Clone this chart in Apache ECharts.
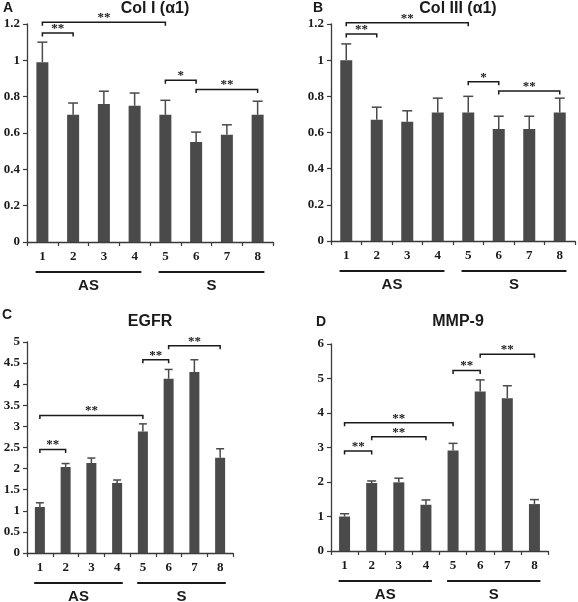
<!DOCTYPE html>
<html>
<head>
<meta charset="utf-8">
<script src="https://cdn.jsdelivr.net/npm/echarts@6/dist/echarts.min.js"></script>
<style>
html,body{margin:0;padding:0;background:#fff;}
#chart{width:578px;height:602px;}
</style>
</head>
<body>
<div id="chart"></div>
<script>
// ---- data ----
const categories = ['1', '2', '3', '4', '5', '6', '7', '8'];
const groups = [[0, 3, 'AS'], [4, 7, 'S']];

const colIMeans = [0.99, 0.70, 0.76, 0.75, 0.70, 0.55, 0.59, 0.70];
const colIErrors = [0.11, 0.065, 0.07, 0.07, 0.08, 0.055, 0.055, 0.075];
const colIBrackets = [[0, 1, 1.15, '**'], [0, 4, 1.21, '**'], [4, 5, 0.89, '*'], [5, 7, 0.84, '**']];

const colIIIMeans = [1.00, 0.67, 0.66, 0.71, 0.71, 0.62, 0.62, 0.71];
const colIIIErrors = [0.09, 0.07, 0.06, 0.08, 0.09, 0.07, 0.07, 0.08];
const colIIIBrackets = [[0, 1, 1.145, '**'], [0, 4, 1.207, '**'], [4, 5, 0.88, '*'], [5, 7, 0.83, '**']];

const egfrMeans = [1.09, 2.04, 2.13, 1.66, 2.88, 4.13, 4.29, 2.26];
const egfrErrors = [0.10, 0.08, 0.12, 0.07, 0.18, 0.22, 0.29, 0.21];
const egfrBrackets = [[0, 1, 2.45, '**'], [0, 4, 3.26, '**'], [4, 5, 4.58, '**'], [5, 7, 4.91, '**']];

const mmp9Means = [1.00, 1.97, 1.99, 1.34, 2.91, 4.62, 4.43, 1.36];
const mmp9Errors = [0.08, 0.06, 0.12, 0.14, 0.21, 0.34, 0.36, 0.13];
const mmp9Brackets = [[0, 1, 2.90, '**'], [1, 3, 3.31, '**'], [0, 4, 3.72, '**'], [4, 5, 5.23, '**'], [5, 7, 5.70, '**']];

const panelTitles = ['Col I (\u03b11)', 'Col III (\u03b11)', 'EGFR', 'MMP-9'];
const panelLetters = ['A', 'B', 'C', 'D'];
const yMax = [1.2, 1.2, 5, 6];
const yInterval = [0.2, 0.2, 0.5, 1];

// ---- layout / style ----
const panels = [
  { means: colIMeans, errors: colIErrors, brackets: colIBrackets, grid: { left: 27, top: 24, width: 246, height: 218 }, barWidth: 12, cap: 10,
    title: [155, 9], letter: [3, 8] },
  { means: colIIIMeans, errors: colIIIErrors, brackets: colIIIBrackets, grid: { left: 331, top: 24, width: 244, height: 217 }, barWidth: 12, cap: 10,
    title: [458, 9], letter: [313, 8] },
  { means: egfrMeans, errors: egfrErrors, brackets: egfrBrackets, grid: { left: 27, top: 342, width: 206, height: 211 }, barWidth: 10, cap: 8,
    title: [150, 322], letter: [2, 315] },
  { means: mmp9Means, errors: mmp9Errors, brackets: mmp9Brackets, grid: { left: 331, top: 344, width: 217, height: 207 }, barWidth: 11, cap: 9,
    title: [458, 322], letter: [316, 322] }
];

const BAR = '#4a4a4a';
const INK = '#1a1a1a';
const AXIS = '#3a3a3a';
const SERIF = '"Liberation Serif", "Times New Roman", serif';
const SANS = '"Liberation Sans", Arial, sans-serif';

const grids = [], xAxes = [], yAxes = [], series = [], graphics = [];

panels.forEach((p, i) => {
  grids.push(Object.assign({ containLabel: false }, p.grid));
  xAxes.push({
    type: 'category', gridIndex: i, data: categories,
    axisLine: { lineStyle: { color: AXIS, width: 1.3 } },
    axisTick: { show: true, length: 4, lineStyle: { color: AXIS, width: 1.2 } },
    axisLabel: { color: INK, fontFamily: SERIF, fontWeight: 'bold', fontSize: 13, margin: 8 }
  });
  yAxes.push({
    type: 'value', gridIndex: i, min: 0, max: yMax[i], interval: yInterval[i],
    axisLine: { show: true, lineStyle: { color: AXIS, width: 1.3 } },
    axisTick: { show: true, length: 4, lineStyle: { color: AXIS, width: 1.2 } },
    splitLine: { show: false },
    axisLabel: { color: INK, fontFamily: SERIF, fontWeight: 'bold', fontSize: 13, margin: 7 }
  });
  series.push({
    type: 'bar', xAxisIndex: i, yAxisIndex: i, data: p.means, barWidth: p.barWidth,
    itemStyle: { color: BAR }, silent: true, animation: false
  });
  // error bars
  series.push({
    type: 'custom', xAxisIndex: i, yAxisIndex: i, animation: false, silent: true,
    data: p.means.map((m, k) => [k, m, p.errors[k]]),
    encode: { x: 0, y: 1 },
    renderItem: (params, api) => {
      const x = api.value(0), v = api.value(1), e = api.value(2);
      const a = api.coord([x, v]), b = api.coord([x, v + e]);
      const hw = p.cap / 2;
      return { type: 'group', children: [
        { type: 'line', shape: { x1: a[0], y1: a[1], x2: b[0], y2: b[1] }, style: { stroke: BAR, lineWidth: 1.5 } },
        { type: 'line', shape: { x1: b[0] - hw, y1: b[1], x2: b[0] + hw, y2: b[1] }, style: { stroke: BAR, lineWidth: 1.5 } }
      ] };
    }
  });
  // significance brackets
  series.push({
    type: 'custom', xAxisIndex: i, yAxisIndex: i, animation: false, silent: true, clip: false,
    data: p.brackets,
    encode: { x: [0, 1], y: 2 },
    renderItem: (params, api) => {
      const br = p.brackets[params.dataIndex];
      const a = api.coord([br[0], br[2]]), b = api.coord([br[1], br[2]]);
      return { type: 'group', children: [
        { type: 'polyline', shape: { points: [[a[0], a[1] + 3.5], [a[0], a[1]], [b[0], b[1]], [b[0], b[1] + 3.5]] },
          style: { stroke: INK, lineWidth: 1.5, fill: null } },
        { type: 'text', x: (a[0] + b[0]) / 2, y: a[1] + 2,
          style: { text: br[3], fill: INK, font: 'bold 13px ' + SERIF, textAlign: 'center', textVerticalAlign: 'bottom' } }
      ] };
    }
  });
  // group underlines and labels
  series.push({
    type: 'custom', xAxisIndex: i, yAxisIndex: i, animation: false, silent: true, clip: false,
    data: groups.map(g => [g[0], g[1]]),
    encode: { x: [0, 1] },
    renderItem: (params, api) => {
      const g = groups[params.dataIndex];
      const band = api.size([1, 0])[0];
      const s = api.coord([g[0], 0]), e = api.coord([g[1], 0]);
      const x1 = s[0] - 0.22 * band, x2 = e[0] + 0.22 * band;
      const y = s[1] + 30;
      return { type: 'group', children: [
        { type: 'line', shape: { x1: x1, y1: y, x2: x2, y2: y }, style: { stroke: INK, lineWidth: 2 } },
        { type: 'text', x: (x1 + x2) / 2, y: y + 14,
          style: { text: g[2], fill: INK, font: 'bold 15px ' + SANS, textAlign: 'center', textVerticalAlign: 'middle' } }
      ] };
    }
  });
  graphics.push({ type: 'text', left: null, x: p.title[0], y: p.title[1],
    style: { text: panelTitles[i], fill: INK, font: 'bold 16px ' + SANS, textAlign: 'center', textVerticalAlign: 'middle' } });
  graphics.push({ type: 'text', x: p.letter[0], y: p.letter[1],
    style: { text: panelLetters[i], fill: INK, font: 'bold 14px ' + SANS, textAlign: 'left', textVerticalAlign: 'middle' } });
});

const chart = echarts.init(document.getElementById('chart'), null, { renderer: 'canvas' });
chart.setOption({
  backgroundColor: '#ffffff',
  animation: false,
  grid: grids,
  xAxis: xAxes,
  yAxis: yAxes,
  series: series,
  graphic: graphics
});
</script>
</body>
</html>
